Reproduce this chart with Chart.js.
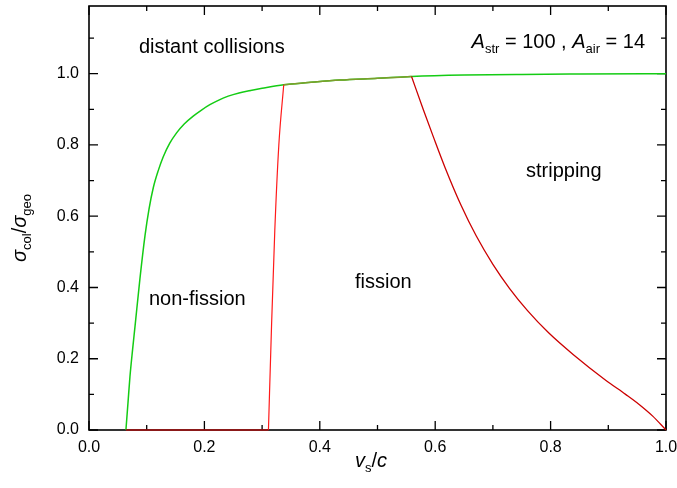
<!DOCTYPE html>
<html>
<head>
<meta charset="utf-8">
<script src="https://cdn.jsdelivr.net/npm/chart.js@4.4.1/dist/chart.umd.min.js"></script>
<style>
html, body { margin: 0; padding: 0; background: #fff; }
</style>
</head>
<body>
<canvas id="chart" width="677" height="488"></canvas>
<script>
// boundary of distant collisions (green)
const distantX = [0.064, 0.0675, 0.071, 0.0755, 0.0797, 0.0883, 0.097, 0.104, 0.1114, 0.12, 0.1287, 0.14, 0.1518, 0.165, 0.1806, 0.195, 0.2095, 0.225, 0.2413, 0.26, 0.28, 0.30, 0.3375, 0.38, 0.435, 0.5, 0.559, 0.65, 0.75, 0.85, 1.0];
const distantY = [0, 0.075, 0.15, 0.225, 0.29, 0.425, 0.545, 0.62, 0.68, 0.728, 0.767, 0.805, 0.834, 0.859, 0.881, 0.898, 0.913, 0.926, 0.937, 0.946, 0.953, 0.959, 0.969, 0.975, 0.982, 0.987, 0.992, 0.996, 0.998, 0.999, 1.0];

// no-fission floor, fission onset, shared top part, stripping onset (red)
const floorX = [0.064, 0.311];
const floorY = [0, 0];
const onsetX = [0.311, 0.3165, 0.322, 0.329, 0.3375];
const onsetY = [0, 0.30, 0.56, 0.80, 0.969];
const topX = [0.3375, 0.38, 0.435, 0.5, 0.559];
const topY = [0.969, 0.975, 0.982, 0.987, 0.992];
const stripX = [0.559, 0.579, 0.597, 0.617, 0.645, 0.671, 0.70, 0.729, 0.76, 0.797, 0.839, 0.896, 0.93, 0.954, 0.977, 1.0];
const stripY = [0.992, 0.901, 0.822, 0.737, 0.63, 0.545, 0.465, 0.397, 0.335, 0.272, 0.212, 0.139, 0.10, 0.071, 0.039, 0.0];

const xMajor = [0, 0.2, 0.4, 0.6, 0.8, 1.0];
const xMinor = [0.1, 0.3, 0.5, 0.7, 0.9];
const yMajor = [0, 0.2, 0.4, 0.6, 0.8, 1.0];
const yMinor = [0.1, 0.3, 0.5, 0.7, 0.9, 1.1];

const FONT = '"Liberation Sans", Arial, sans-serif';

function pts(xs, ys) {
    return xs.map((x, i) => ({x, y: ys[i]}));
}

function line(xs, ys, color, width, order) {
    return {
        data: pts(xs, ys),
        borderColor: color,
        borderWidth: width,
        pointRadius: 0,
        fill: false,
        cubicInterpolationMode: 'monotone',
        clip: 4,
        order
    };
}

// draws text pieces one after another; each piece may be italic and/or a subscript
function drawRich(ctx, x, y, parts) {
    let cx = x;
    parts.forEach(p => {
        const size = p.sub ? 13 : 20;
        ctx.font = (p.it ? 'italic ' : '') + size + 'px ' + FONT;
        ctx.fillText(p.t, cx, y + (p.sub ? 5 : 0));
        cx += ctx.measureText(p.t).width;
    });
}

function richWidth(ctx, parts) {
    let w = 0;
    parts.forEach(p => {
        ctx.font = (p.it ? 'italic ' : '') + (p.sub ? 13 : 20) + 'px ' + FONT;
        w += ctx.measureText(p.t).width;
    });
    return w;
}

const framePlugin = {
    id: 'frame',
    beforeDatasetsDraw(chart) {
        const {ctx, chartArea: a, scales} = chart;
        ctx.save();
        ctx.strokeStyle = '#000';
        ctx.lineWidth = 1.6;
        ctx.strokeRect(a.left, a.top, a.right - a.left, a.bottom - a.top);
        ctx.lineWidth = 1.3;
        ctx.beginPath();
        const tx = (vals, len) => vals.forEach(v => {
            const px = scales.x.getPixelForValue(v);
            ctx.moveTo(px, a.bottom); ctx.lineTo(px, a.bottom - len);
            ctx.moveTo(px, a.top); ctx.lineTo(px, a.top + len);
        });
        const ty = (vals, len) => vals.forEach(v => {
            const py = scales.y.getPixelForValue(v);
            ctx.moveTo(a.left, py); ctx.lineTo(a.left + len, py);
            ctx.moveTo(a.right, py); ctx.lineTo(a.right - len, py);
        });
        tx(xMajor, 9); tx(xMinor, 5);
        ty(yMajor, 9); ty(yMinor, 5);
        ctx.stroke();
        ctx.restore();
    },
    afterDraw(chart) {
        const {ctx} = chart;
        ctx.save();
        ctx.fillStyle = '#000';
        ctx.textBaseline = 'alphabetic';
        ctx.textAlign = 'left';
        ctx.font = '20px ' + FONT;
        ctx.fillText('distant collisions', 139, 53);
        ctx.fillText('stripping', 526, 177);
        ctx.fillText('fission', 355, 288);
        ctx.fillText('non-fission', 149, 305);

        const aLabel = [
            {t: 'A', it: true}, {t: 'str', sub: true}, {t: ' = 100 , '},
            {t: 'A', it: true}, {t: 'air', sub: true}, {t: ' = 14'}
        ];
        drawRich(ctx, 645 - richWidth(ctx, aLabel), 48, aLabel);

        drawRich(ctx, 355, 467, [
            {t: 'v', it: true}, {t: 's', sub: true}, {t: '/'}, {t: 'c', it: true}
        ]);

        ctx.translate(26, 262);
        ctx.rotate(-Math.PI / 2);
        drawRich(ctx, 0, 0, [
            {t: 'σ', it: true}, {t: 'col', sub: true}, {t: '/'},
            {t: 'σ', it: true}, {t: 'geo', sub: true}
        ]);
        ctx.restore();
    }
};

const tickFont = {family: FONT, size: 16};

new Chart(document.getElementById('chart'), {
    type: 'line',
    data: {
        datasets: [
            line(distantX, distantY, '#14cc14', 1.5, 3),
            line(topX, topY, '#7f9c2c', 1.5, 2),
            line(floorX, floorY, '#a81010', 1.6, 1),
            line(onsetX, onsetY, '#ff1a1a', 1.2, 1),
            line(stripX, stripY, '#cc0000', 1.3, 1)
        ]
    },
    options: {
        responsive: false,
        animation: false,
        devicePixelRatio: 1,
        layout: {padding: {left: 0, top: 6, right: 11, bottom: 0}},
        plugins: {legend: {display: false}, tooltip: {enabled: false}},
        scales: {
            x: {
                type: 'linear',
                min: 0,
                max: 1,
                grid: {display: false, drawTicks: false},
                border: {display: false},
                ticks: {
                    stepSize: 0.2,
                    includeBounds: false,
                    padding: 8,
                    color: '#000',
                    font: tickFont,
                    maxRotation: 0,
                    callback: v => v.toFixed(1)
                },
                afterFit: s => {
                    s.height = 58;
                    s.paddingLeft = 0; s.paddingRight = 0;
                }
            },
            y: {
                min: 0,
                max: 1.19,
                grid: {display: false, drawTicks: false},
                border: {display: false},
                ticks: {
                    stepSize: 0.2,
                    includeBounds: false,
                    padding: 10,
                    color: '#000',
                    font: tickFont,
                    callback: v => v.toFixed(1)
                },
                afterFit: s => {
                    s.width = 89;
                    s.paddingTop = 0; s.paddingBottom = 0;
                }
            }
        }
    },
    plugins: [framePlugin]
});
</script>
</body>
</html>
